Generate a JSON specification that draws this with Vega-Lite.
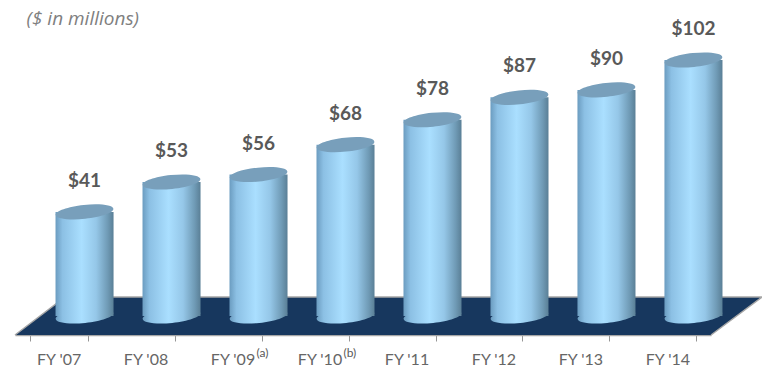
{"$schema":"https://vega.github.io/schema/vega-lite/v6.json","width":762,"height":369,"padding":0,"autosize":{"type":"none"},"background":"white","config":{"view":{"stroke":null}},"datasets":{"bars":[{"fy":"FY '07","v":41,"label":"$41"},{"fy":"FY '08","v":53,"label":"$53"},{"fy":"FY '09","v":56,"label":"$56"},{"fy":"FY '10","v":68,"label":"$68"},{"fy":"FY '11","v":78,"label":"$78"},{"fy":"FY '12","v":87,"label":"$87"},{"fy":"FY '13","v":90,"label":"$90"},{"fy":"FY '14","v":102,"label":"$102"}],"floor":[{"fx":0,"top":-8.43,"bottom":-8.43},{"fx":0.575,"top":6.83,"bottom":-8.43},{"fx":8.0,"top":6.83,"bottom":-8.43},{"fx":8.586,"top":6.83,"bottom":6.83}],"edge":[{"o":1,"fx":0,"e":-8.43},{"o":2,"fx":0.575,"e":6.83},{"o":3,"fx":8.586,"e":6.83},{"o":4,"fx":8.0,"e":-8.43}],"notes":[{"fy":"FY '09","note":"(a)"},{"fy":"FY '10","note":"(b)"}],"unit":[{"fy":"FY '07","t":"($ in millions)"}]},"layer":[{"data":{"name":"floor"},"mark":{"type":"area","color":"#17375e"},"encoding":{"x":{"field":"fx","type":"quantitative","scale":{"domain":[-0.1724,8.586],"range":[0,762]},"axis":null},"y":{"field":"top","type":"quantitative","stack":null,"scale":{"domain":[-22.09,126.1],"range":[369,0],"nice":false,"zero":false},"axis":null},"y2":{"field":"bottom"}}},{"data":{"name":"edge"},"mark":{"type":"line","color":"#a6a6a6","strokeWidth":1.5},"encoding":{"x":{"field":"fx","type":"quantitative","scale":{"domain":[-0.1724,8.586],"range":[0,762]},"axis":null},"y":{"field":"e","type":"quantitative","scale":{"domain":[-22.09,126.1],"range":[369,0],"nice":false,"zero":false},"axis":null},"order":{"field":"o"}}},{"data":{"name":"bars"},"encoding":{"x":{"field":"fy","type":"nominal","sort":null,"scale":{"type":"band","domain":["FY '07","FY '08","FY '09","FY '10","FY '11","FY '12","FY '13","FY '14"],"range":[41,737],"paddingInner":0.333,"paddingOuter":0.167},"axis":null}},"layer":[{"mark":{"type":"point","filled":true,"opacity":1,"size":3364,"strokeWidth":0,"shape":"M0.9945,-0.1045 C1.0084,0.0273 0.5744,0.181 0.0251,0.2387 C-0.5242,0.2964 -0.9806,0.2363 -0.9945,0.1045 C-1.0084,-0.0273 -0.5744,-0.181 -0.0251,-0.2387 C0.5242,-0.2964 0.9806,-0.2363 0.9945,-0.1045 Z","fill":{"x1":0,"x2":1,"y1":0,"y2":0,"gradient":"linear","stops":[{"offset":0,"color":"#6b9cc0"},{"offset":0.12,"color":"#8cc0e4"},{"offset":0.45,"color":"#aadfff"},{"offset":0.7,"color":"#95c7e8"},{"offset":0.9,"color":"#6f9ab5"},{"offset":1,"color":"#5a7f96"}]}},"encoding":{"y":{"datum":-0.8,"type":"quantitative","scale":{"domain":[-22.09,126.1],"range":[369,0],"nice":false,"zero":false},"axis":null}}},{"mark":{"type":"bar","fill":{"x1":0,"x2":1,"y1":0,"y2":0,"gradient":"linear","stops":[{"offset":0,"color":"#6b9cc0"},{"offset":0.12,"color":"#8cc0e4"},{"offset":0.45,"color":"#aadfff"},{"offset":0.7,"color":"#95c7e8"},{"offset":0.9,"color":"#6f9ab5"},{"offset":1,"color":"#5a7f96"}]}},"encoding":{"y":{"field":"v","type":"quantitative","stack":null,"scale":{"domain":[-22.09,126.1],"range":[369,0],"nice":false,"zero":false},"axis":null},"y2":{"datum":-0.8}}},{"mark":{"type":"point","filled":true,"opacity":1,"size":3364,"strokeWidth":0,"color":"#789fbb","shape":"M0.9945,-0.1045 C1.0084,0.0273 0.5744,0.181 0.0251,0.2387 C-0.5242,0.2964 -0.9806,0.2363 -0.9945,0.1045 C-1.0084,-0.0273 -0.5744,-0.181 -0.0251,-0.2387 C0.5242,-0.2964 0.9806,-0.2363 0.9945,-0.1045 Z"},"encoding":{"y":{"field":"v","type":"quantitative","scale":{"domain":[-22.09,126.1],"range":[369,0],"nice":false,"zero":false},"axis":null}}},{"mark":{"type":"text","font":"Lato","fontWeight":"bold","fontSize":19,"color":"#595959","baseline":"middle","dy":-31},"encoding":{"y":{"field":"v","type":"quantitative","scale":{"domain":[-22.09,126.1],"range":[369,0],"nice":false,"zero":false},"axis":null},"text":{"field":"label"}}}]},{"data":{"name":"notes"},"mark":{"type":"text","font":"Lato","fontSize":12,"color":"#595959","align":"left","baseline":"middle","dx":24},"encoding":{"x":{"field":"fy","type":"nominal","sort":null,"title":null,"scale":{"type":"band","domain":["FY '07","FY '08","FY '09","FY '10","FY '11","FY '12","FY '13","FY '14"],"range":[15,711],"paddingInner":0.333,"paddingOuter":0.167},"axis":{"orient":"bottom","offset":-34,"labelAngle":0,"labelFont":"Lato","labelFontSize":16,"labelFontWeight":"normal","labelColor":"#666666","labelPadding":10,"tickBand":"extent","tickColor":"#969696","tickSize":6,"domainColor":"#a6a6a6","domainWidth":1.5,"grid":false,"title":null}},"y":{"datum":-15.7,"type":"quantitative","scale":{"domain":[-22.09,126.1],"range":[369,0],"nice":false,"zero":false},"axis":null},"text":{"field":"note"}}},{"data":{"name":"unit"},"mark":{"type":"text","font":"Open Sans","fontStyle":"italic","fontSize":19,"color":"#808080","align":"left","baseline":"middle","dx":-32},"encoding":{"x":{"field":"fy","type":"nominal","sort":null,"scale":{"type":"band","domain":["FY '07","FY '08","FY '09","FY '10","FY '11","FY '12","FY '13","FY '14"],"range":[15,711],"paddingInner":0.333,"paddingOuter":0.167},"axis":null},"y":{"datum":118.6,"type":"quantitative","scale":{"domain":[-22.09,126.1],"range":[369,0],"nice":false,"zero":false},"axis":null},"text":{"field":"t"}}}],"resolve":{"scale":{"x":"independent"}}}
